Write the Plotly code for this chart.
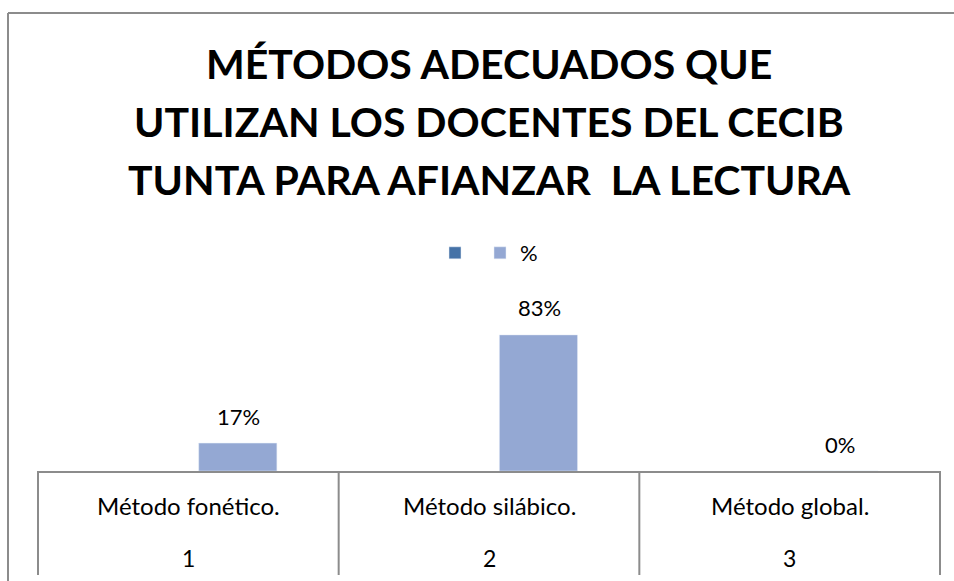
import plotly.graph_objects as go

# ---- data ----
categories = ["Método fonético.", "Método silábico.", "Método global."]
numbers = ["1", "2", "3"]
series1_name = ""
series1_values = [None, None, None]
series2_name = "%"
series2_values = [17, 83, 0]
title_lines = ["MÉTODOS ADECUADOS QUE",
               "UTILIZAN LOS DOCENTES DEL CECIB",
               "TUNTA PARA AFIANZAR\u00a0 LA LECTURA"]

W, H = 954, 581
L, R, T, B = 38, 14, 290, 110
plot_h = H - T - B
px_per_unit = 1.64
ymax = plot_h / px_per_unit

FONT = "Lato"
GRAY = "#8c8c8c"

fig = go.Figure()
fig.add_trace(go.Bar(x=categories, y=series1_values, name=series1_name,
                     marker=dict(color="#4572A7")))
fig.add_trace(go.Bar(x=categories, y=series2_values, name=series2_name,
                     marker=dict(color="#94A8D3")))

def py(pix):
    return (H - B - pix) / plot_h

def pxp(pix):
    return (pix - L) / (W - L - R)

shapes = []
# outer chart border (left and top visible)
shapes.append(dict(type="line", xref="paper", yref="paper",
                   x0=pxp(8), x1=pxp(8), y0=py(13), y1=py(600),
                   line=dict(color=GRAY, width=2)))
shapes.append(dict(type="line", xref="paper", yref="paper",
                   x0=pxp(8), x1=pxp(970), y0=py(13), y1=py(13),
                   line=dict(color=GRAY, width=2)))
# category table dividers
n = len(categories)
for i in range(n + 1):
    shapes.append(dict(type="line", xref="paper", yref="paper",
                       x0=i / n, x1=i / n, y0=0, y1=py(575),
                       line=dict(color=GRAY, width=2)))

annotations = []
for i, t in enumerate(title_lines):
    annotations.append(dict(text=t, xref="paper", yref="paper",
                            x=0.5, y=py(63 + 58 * i), xanchor="center",
                            yanchor="middle", showarrow=False,
                            font=dict(family=FONT, size=41, color="black",
                                      weight="bold")))
for c, num, v in zip(categories, numbers, series2_values):
    annotations.append(dict(text=c, x=c, xref="x", yref="paper", y=py(505),
                            showarrow=False, yanchor="middle",
                            font=dict(family=FONT, size=24, color="black")))
    annotations.append(dict(text=num, x=c, xref="x", yref="paper", y=py(558),
                            showarrow=False, yanchor="middle",
                            font=dict(family=FONT, size=23, color="black")))
    annotations.append(dict(text=f"{v}%", x=c, y=v, xref="x", yref="y",
                            xshift=50, yshift=27, showarrow=False,
                            yanchor="middle",
                            font=dict(family=FONT, size=22, color="black")))

fig.update_layout(
    width=W, height=H,
    margin=dict(l=L, r=R, t=T, b=B),
    paper_bgcolor="white", plot_bgcolor="white",
    barmode="group", bargap=0.342, bargroupgap=0.21,
    showlegend=True,
    legend=dict(orientation="h", x=0.5, xanchor="center", y=py(253),
                yanchor="middle", font=dict(family=FONT, size=22, color="black"),
                itemwidth=30, traceorder="normal"),
    xaxis=dict(showticklabels=False, showline=True, linecolor=GRAY,
               linewidth=2, showgrid=False, zeroline=False, ticks=""),
    yaxis=dict(range=[0, ymax], visible=False, showgrid=False),
    shapes=shapes,
    annotations=annotations,
    font=dict(family=FONT),
)

fig.write_html("out.html",
               config={"displayModeBar": False},
               post_script="document.body.style.margin='0px';")
